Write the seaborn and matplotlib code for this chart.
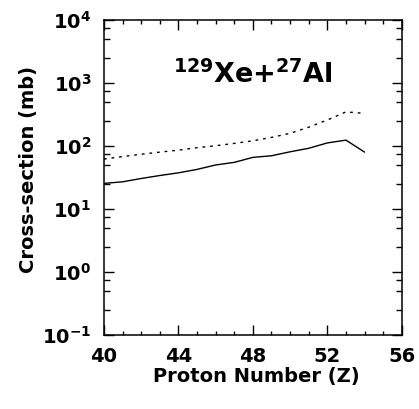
import numpy as np
import pandas as pd
import matplotlib
matplotlib.use("Agg")
import matplotlib.pyplot as plt
import matplotlib.ticker as mticker
import seaborn as sns

# values
proton_z = [40, 41, 42, 43, 44, 45, 46, 47, 48, 49, 50, 51, 52, 53, 54]
xs_solid = [25.5, 27, 30.5, 34, 37.5, 42.5, 50, 55, 66, 70, 81, 92, 112, 124, 80]
xs_dotted = [62, 68, 74, 80, 86, 94, 101, 110, 121, 137, 159, 199, 259, 348, 330]

sns.set_theme(style="ticks")
plt.rcParams["font.family"] = ["DejaVu Sans"]
plt.rcParams["font.weight"] = "bold"
plt.rcParams["text.color"] = "black"
plt.rcParams["axes.labelcolor"] = "black"
plt.rcParams["mathtext.fontset"] = "custom"
plt.rcParams["mathtext.rm"] = "DejaVu Sans:bold"
plt.rcParams["mathtext.bf"] = "DejaVu Sans:bold"
plt.rcParams["mathtext.default"] = "bf"

df = pd.DataFrame({
    "Z": proton_z * 2,
    "sigma": xs_solid + xs_dotted,
    "calc": ["solid"] * len(proton_z) + ["dotted"] * len(proton_z),
})

fig = plt.figure(figsize=(4.19, 4.09), dpi=100)
ax = fig.add_axes([0.248, 0.181, 0.711, 0.770])

sns.lineplot(data=df[df.calc == "solid"], x="Z", y="sigma", color="black",
             lw=1.0, ax=ax, legend=False)
sns.lineplot(data=df[df.calc == "dotted"], x="Z", y="sigma", color="black",
             lw=1.0, ax=ax, legend=False)
ax.lines[1].set_linestyle((0, (2, 3.5)))

ax.set_yscale("log")
ax.set_xlim(40, 56)
ax.set_ylim(0.1, 1e4)

ax.xaxis.set_major_locator(mticker.MultipleLocator(4))
ax.xaxis.set_minor_locator(mticker.MultipleLocator(1))
ax.yaxis.set_major_locator(mticker.LogLocator(base=10, numticks=10))
ax.yaxis.set_minor_locator(mticker.LogLocator(base=10, subs=(2.5, 5, 7.5), numticks=10))
ax.yaxis.set_minor_formatter(mticker.NullFormatter())

ax.tick_params(which="both", direction="in", top=True, right=True, width=1.0,
               labelsize=14, colors="black")
ax.tick_params(which="major", length=7)
ax.tick_params(axis="x", which="major", pad=9)
ax.tick_params(axis="y", which="major", pad=9)
ax.tick_params(axis="x", which="minor", length=3)
ax.tick_params(axis="y", which="minor", length=4.5)
for sp in ax.spines.values():
    sp.set_linewidth(1.1)
    sp.set_color("black")

ax.set_xlabel("Proton Number (Z)", fontsize=14, fontweight="bold", va="center")
ax.xaxis.set_label_coords(0.512, -0.133)
ax.set_ylabel("Cross-section (mb)", fontsize=14, fontweight="bold", va="center")
ax.yaxis.set_label_coords(-0.253, 0.525)

ax.text(0.5, 0.8, r"$^{129}$Xe+$^{27}$Al", transform=ax.transAxes,
        ha="center", va="baseline", fontsize=19.5, fontweight="bold")

fig.savefig("out.png", dpi=100)
